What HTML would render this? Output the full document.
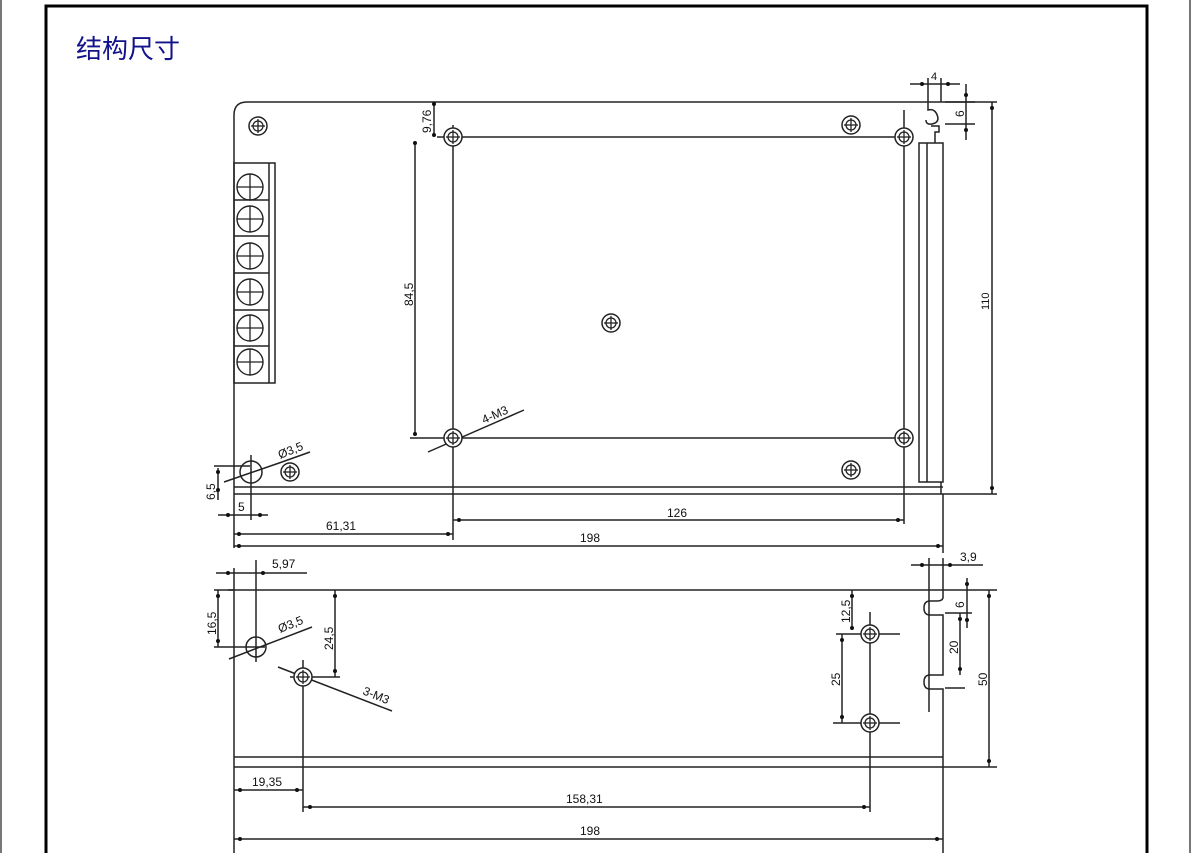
<!DOCTYPE html>
<html><head><meta charset="utf-8"><style>
html,body{margin:0;padding:0;background:#fff;width:1191px;height:853px;overflow:hidden}
svg{display:block}
.t{font-family:"Liberation Sans",sans-serif;font-size:12px;fill:#111}
</style></head><body>
<svg width="1191" height="853" viewBox="0 0 1191 853" xmlns="http://www.w3.org/2000/svg">
<defs>
<g id="scr"><circle r="9" fill="#fff" stroke="#222" stroke-width="1.5"/><circle r="5" fill="none" stroke="#222" stroke-width="1.3"/><line x1="-7" y1="0" x2="7" y2="0" stroke="#222" stroke-width="1.3"/><line x1="0" y1="-7" x2="0" y2="7" stroke="#222" stroke-width="1.3"/></g>
<g id="tb"><circle r="13" fill="none" stroke="#222" stroke-width="1.4"/><line x1="-13" y1="0" x2="13" y2="0" stroke="#222" stroke-width="1.3"/><line x1="0" y1="-13" x2="0" y2="13" stroke="#222" stroke-width="1.3"/></g>
</defs>
<rect x="0" y="0" width="2" height="853" fill="#777"/>
<rect x="1189" y="0" width="2" height="853" fill="#777"/>
<path d="M46 853 V6 H1147 V853" fill="none" stroke="#000" stroke-width="3"/>
<text x="76" y="58" style="font-family:'Liberation Sans','Noto Sans CJK SC',sans-serif;font-size:26px;fill:#12128a">结构尺寸</text>
<g stroke="#222" stroke-width="1.5" fill="none">
<path d="M234 548 V115 Q234 102 247 102 H997"/>
<line x1="234" y1="487" x2="943" y2="487"/>
<line x1="234" y1="494" x2="997" y2="494"/>
<rect x="234" y="163" width="41" height="220"/>
<line x1="269" y1="163" x2="269" y2="383"/>
<line x1="234" y1="200" x2="269" y2="200"/><line x1="234" y1="236" x2="269" y2="236"/><line x1="234" y1="273" x2="269" y2="273"/><line x1="234" y1="310" x2="269" y2="310"/><line x1="234" y1="346" x2="269" y2="346"/>
<rect x="919" y="143" width="24" height="339"/>
<line x1="927" y1="143" x2="927" y2="482"/>
<path d="M928 102 V110 Q936 108 938 118 Q938 123 932 124 Q926 125 926 120 M931 126 H939 V132 H935 V143"/>
<path d="M928 102 V78 M941 102 V78 M941 482 V494 M943 494 V553"/>
<line x1="453" y1="125" x2="453" y2="540"/>
<line x1="904" y1="110" x2="904" y2="524"/>
<line x1="437" y1="137" x2="900" y2="137"/>
<line x1="410" y1="438" x2="900" y2="438"/>
<line x1="415" y1="142" x2="415" y2="435"/>
<line x1="434" y1="102" x2="434" y2="136"/>
<line x1="992" y1="102" x2="992" y2="494"/>
<line x1="910" y1="84" x2="960" y2="84"/>
<line x1="966" y1="84" x2="966" y2="140"/>
<line x1="945" y1="102" x2="975" y2="102"/>
<line x1="945" y1="124" x2="975" y2="124"/>
<line x1="218" y1="468" x2="218" y2="500"/>
<line x1="214" y1="466" x2="250" y2="466"/>
<line x1="251" y1="455" x2="251" y2="520"/>
<line x1="218" y1="515" x2="268" y2="515"/>
<line x1="234" y1="534" x2="453" y2="534"/>
<line x1="453" y1="520" x2="904" y2="520"/>
<line x1="234" y1="546" x2="943" y2="546"/>
<circle cx="251" cy="472" r="11"/>
<line x1="224" y1="482" x2="282" y2="462"/>
<line x1="282" y1="462" x2="310" y2="452"/>
<line x1="428" y1="452" x2="524" y2="410"/>
<line x1="234" y1="568" x2="234" y2="853"/>
<line x1="228" y1="590" x2="997" y2="590"/>
<path d="M943 590 V598 Q942 601 937 601 H930 Q924 601 924 608 Q924 615 930 615 H943 V675 H930 Q924 675 924 682 Q924 689 930 689 H943 V853"/>
<line x1="929" y1="558" x2="929" y2="712"/>
<line x1="943" y1="558" x2="943" y2="590"/>
<line x1="234" y1="757" x2="943" y2="757"/>
<line x1="234" y1="767" x2="997" y2="767"/>
<line x1="216" y1="573" x2="307" y2="573"/>
<line x1="256" y1="560" x2="256" y2="662"/>
<line x1="214" y1="590" x2="234" y2="590"/>
<line x1="214" y1="647" x2="265" y2="647"/>
<line x1="218" y1="590" x2="218" y2="647"/>
<circle cx="256" cy="647" r="10"/>
<line x1="229" y1="659" x2="312" y2="627"/>
<line x1="335" y1="590" x2="335" y2="677"/>
<line x1="290" y1="677" x2="340" y2="677"/>
<line x1="303" y1="660" x2="303" y2="812"/>
<line x1="278" y1="667" x2="392" y2="711"/>
<line x1="234" y1="790" x2="303" y2="790"/>
<line x1="303" y1="807" x2="870" y2="807"/>
<line x1="234" y1="839" x2="943" y2="839"/>
<line x1="870" y1="612" x2="870" y2="812"/>
<line x1="836" y1="634" x2="900" y2="634"/>
<line x1="833" y1="723" x2="900" y2="723"/>
<line x1="852" y1="590" x2="852" y2="630"/>
<line x1="842" y1="634" x2="842" y2="723"/>
<line x1="911" y1="565" x2="983" y2="565"/>
<line x1="967" y1="578" x2="967" y2="628"/>
<line x1="945" y1="613" x2="972" y2="613"/>
<line x1="960" y1="613" x2="960" y2="675"/>
<line x1="945" y1="688" x2="965" y2="688"/>
<line x1="989" y1="590" x2="989" y2="767"/>
</g>
<g fill="#111">
<circle cx="415" cy="143" r="2"/><circle cx="415" cy="434" r="2"/>
<circle cx="434" cy="104" r="2"/><circle cx="434" cy="135" r="2"/>
<circle cx="992" cy="108" r="2"/><circle cx="992" cy="488" r="2"/>
<circle cx="922" cy="84" r="2"/><circle cx="948" cy="84" r="2"/>
<circle cx="966" cy="95" r="2"/><circle cx="966" cy="130" r="2"/>
<circle cx="218" cy="472" r="2"/><circle cx="218" cy="490" r="2"/>
<circle cx="228" cy="515" r="2"/><circle cx="260" cy="515" r="2"/>
<circle cx="239" cy="534" r="2"/><circle cx="448" cy="534" r="2"/>
<circle cx="459" cy="520" r="2"/><circle cx="898" cy="520" r="2"/>
<circle cx="239" cy="546" r="2"/><circle cx="938" cy="546" r="2"/>
<circle cx="228" cy="573" r="2"/><circle cx="263" cy="573" r="2"/>
<circle cx="218" cy="596" r="2"/><circle cx="218" cy="641" r="2"/>
<circle cx="335" cy="596" r="2"/><circle cx="335" cy="671" r="2"/>
<circle cx="240" cy="790" r="2"/><circle cx="297" cy="790" r="2"/>
<circle cx="310" cy="807" r="2"/><circle cx="864" cy="807" r="2"/>
<circle cx="240" cy="839" r="2"/><circle cx="937" cy="839" r="2"/>
<circle cx="852" cy="596" r="2"/><circle cx="852" cy="628" r="2"/>
<circle cx="842" cy="640" r="2"/><circle cx="842" cy="717" r="2"/>
<circle cx="922" cy="565" r="2"/><circle cx="950" cy="565" r="2"/>
<circle cx="967" cy="584" r="2"/><circle cx="967" cy="620" r="2"/>
<circle cx="960" cy="619" r="2"/><circle cx="960" cy="669" r="2"/>
<circle cx="989" cy="596" r="2"/><circle cx="989" cy="761" r="2"/>
</g>
<use href="#scr" x="258" y="126"/><use href="#scr" x="851" y="125"/><use href="#scr" x="851" y="470"/>
<use href="#scr" x="290" y="472"/><use href="#scr" x="611" y="323"/>
<use href="#scr" x="453" y="137"/><use href="#scr" x="453" y="438"/>
<use href="#scr" x="904" y="137"/><use href="#scr" x="904" y="438"/>
<use href="#scr" x="303" y="677"/><use href="#scr" x="870" y="634"/><use href="#scr" x="870" y="723"/>
<use href="#tb" x="250" y="187"/><use href="#tb" x="250" y="219"/><use href="#tb" x="250" y="256"/>
<use href="#tb" x="250" y="292"/><use href="#tb" x="250" y="328"/><use href="#tb" x="250" y="362"/>
<text class="t" transform="translate(413,306) rotate(-90)">84,5</text>
<text class="t" transform="translate(431,133) rotate(-90)">9,76</text>
<text class="t" transform="translate(989,310) rotate(-90)" style="font-size:11px">110</text>
<text class="t" x="931" y="80" style="font-size:11px">4</text>
<text class="t" transform="translate(964,117) rotate(-90)">6</text>
<text class="t" transform="translate(215,500) rotate(-90)">6,5</text>
<text class="t" x="238" y="511">5</text>
<text class="t" x="326" y="530">61,31</text>
<text class="t" x="667" y="517">126</text>
<text class="t" x="580" y="542">198</text>
<text class="t" transform="translate(280,459) rotate(-22)">Ø3,5</text>
<text class="t" transform="translate(484,424) rotate(-24)">4-M3</text>
<text class="t" x="272" y="568">5,97</text>
<text class="t" transform="translate(216,635) rotate(-90)">16,5</text>
<text class="t" transform="translate(333,650) rotate(-90)">24,5</text>
<text class="t" transform="translate(280,633) rotate(-22)">Ø3,5</text>
<text class="t" transform="translate(362,694) rotate(22)">3-M3</text>
<text class="t" x="252" y="786">19,35</text>
<text class="t" x="566" y="803">158,31</text>
<text class="t" x="580" y="835">198</text>
<text class="t" transform="translate(850,623) rotate(-90)">12,5</text>
<text class="t" transform="translate(840,686) rotate(-90)">25</text>
<text class="t" x="960" y="561">3,9</text>
<text class="t" transform="translate(964,608) rotate(-90)">6</text>
<text class="t" transform="translate(958,654) rotate(-90)">20</text>
<text class="t" transform="translate(987,686) rotate(-90)">50</text>
</svg>
</body></html>
